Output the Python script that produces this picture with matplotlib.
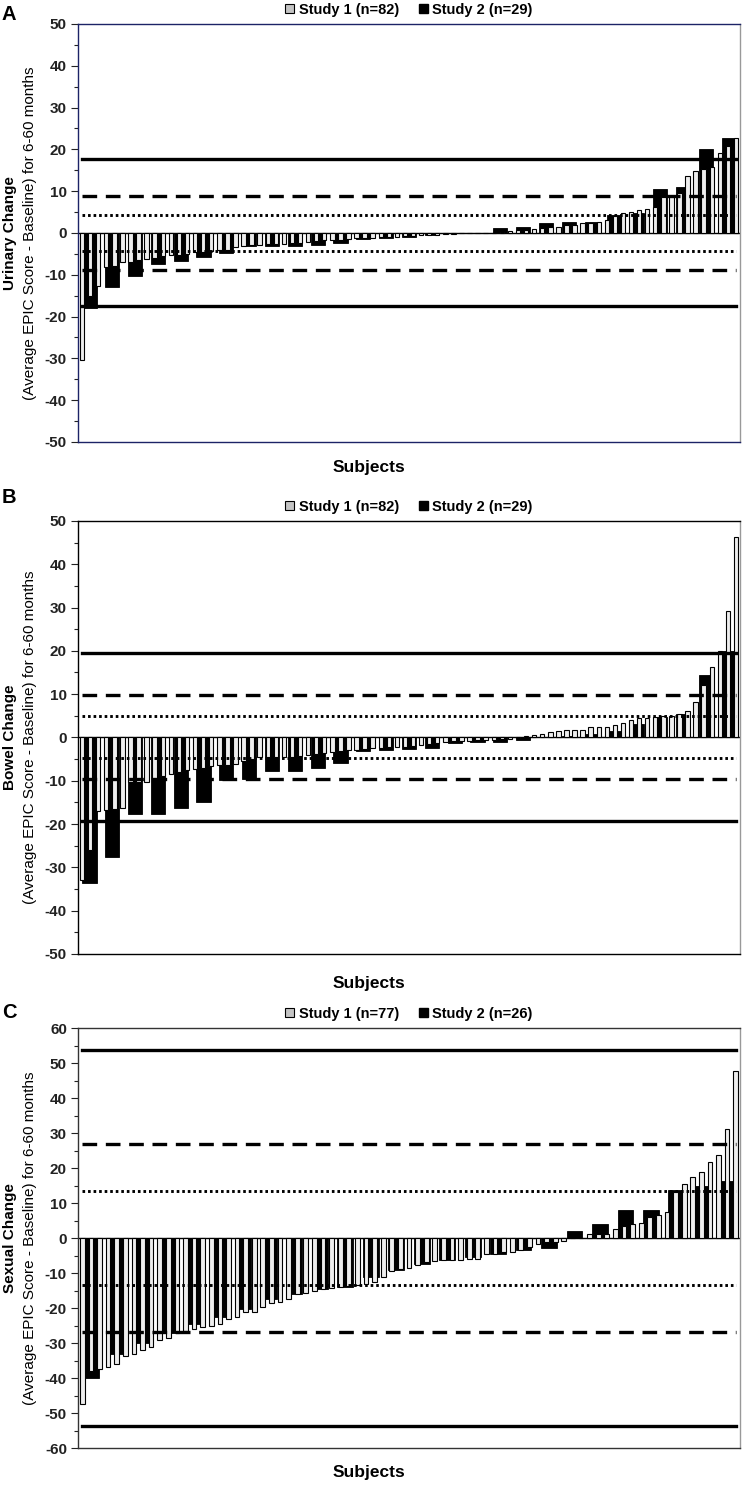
import numpy as np
import matplotlib.pyplot as plt
from matplotlib.patches import Patch

plt.rcParams['font.family'] = ['Liberation Sans', 'DejaVu Sans']
plt.rcParams['axes.unicode_minus'] = False

# --- data (sorted change scores) ---
urinary_s1 = [-30.5, -15.2, -12.6, -8.2, -8.0, -7.0, -7.0, -6.5, -6.2, -6.0,
              -5.5, -5.3, -5.3, -5.0, -4.6, -4.5, -4.4, -4.2, -4.0, -3.4,
              -3.2, -3.0, -2.8, -2.7, -2.6, -2.6, -2.5, -2.3, -2.2, -2.0,
              -1.8, -1.7, -1.6, -1.4, -1.3, -1.2, -1.1, -1.0, -1.0, -0.9,
              -0.8, -0.7, -0.6, -0.5, -0.4, -0.3, -0.2, -0.1, 0.0, 0.0,
              0.0, 0.0, 0.3, 0.5, 0.6, 0.8, 1.0, 1.2, 1.4, 1.5,
              1.8, 2.0, 2.3, 2.3, 2.5, 3.1, 4.1, 4.7, 5.1, 5.5,
              5.7, 6.3, 8.7, 8.9, 9.5, 13.5, 14.9, 15.3, 15.7, 19.1,
              20.7, 22.7]
urinary_s2 = [-17.9, -13.0, -10.4, -7.4, -6.8, -5.8, -4.9, -3.2, -3.2, -3.2,
              -2.9, -2.5, -1.4, -1.3, -1.0, -0.4, 0.0, 0.0, 1.2, 1.4,
              2.3, 2.6, 2.6, 4.4, 4.7, 10.5, 11.1, 20.1, 22.7]

bowel_s1 = [-33.0, -26.0, -17.0, -16.8, -16.5, -16.2, -10.4, -10.3, -10.2, -9.5,
            -9.0, -8.5, -8.0, -7.5, -7.2, -7.0, -6.6, -6.4, -6.3, -6.2,
            -5.5, -5.0, -4.6, -4.6, -4.6, -4.6, -4.4, -4.2, -4.1, -3.8,
            -3.5, -3.3, -3.1, -2.9, -2.8, -2.6, -2.5, -2.4, -2.3, -2.3,
            -2.1, -1.9, -1.8, -1.4, -1.2, -1.0, -0.9, -0.8, -0.8, -0.7,
            -0.6, -0.5, -0.4, -0.3, -0.2, 0.4, 0.5, 0.9, 1.2, 1.4,
            1.7, 1.8, 1.8, 2.5, 2.5, 2.5, 2.8, 3.3, 4.0, 4.4,
            4.6, 4.8, 5.0, 5.0, 5.5, 6.0, 8.3, 12.0, 16.3, 20.0,
            29.2, 46.4]
bowel_s2 = [-33.5, -27.5, -17.7, -17.7, -16.4, -15.0, -9.8, -9.6, -7.7, -7.7,
            -7.0, -6.0, -3.2, -2.8, -2.7, -2.5, -1.2, -1.0, -1.0, -0.6,
            0.0, 0.3, 0.8, 1.5, 3.0, 4.8, 5.5, 14.5, 20.0]

sexual_s1 = [-47.5, -38.0, -37.3, -36.8, -36.0, -33.8, -33.0, -32.0, -31.0, -29.0,
             -28.5, -27.0, -26.5, -26.0, -25.5, -25.0, -24.5, -23.0, -22.6, -21.0,
             -21.0, -19.8, -18.6, -18.3, -17.5, -16.0, -15.8, -15.0, -14.5, -14.2,
             -13.9, -13.6, -13.3, -13.0, -12.6, -11.0, -9.5, -8.8, -8.5, -7.8,
             -6.9, -6.6, -6.4, -6.4, -6.4, -5.9, -5.9, -4.7, -4.7, -4.0,
             -4.0, -3.5, -2.6, -1.6, -1.1, -1.0, -0.9, 0.0, 0.0, 1.2,
             1.2, 1.2, 2.7, 3.3, 3.9, 4.3, 6.0, 6.7, 7.4, 13.1,
             15.5, 17.4, 18.9, 21.7, 23.6, 31.2, 47.7]
sexual_s2 = [-40.0, -33.0, -30.0, -27.0, -24.5, -22.6, -20.2, -17.5, -15.9, -14.5,
             -14.0, -11.1, -9.2, -7.5, -6.4, -5.5, -4.5, -3.3, -2.8, 2.0,
             3.9, 7.9, 8.1, 13.6, 15.0, 16.4]

# thresholds: solid, dashed, dotted
urinary_thr = [17.6, 8.8, 4.4]
bowel_thr = [19.4, 9.7, 4.85]
sexual_thr = [53.8, 26.9, 13.45]

titles = ['Urinary Change', 'Bowel Change', 'Sexual Change']
sub_label = '(Average EPIC Score - Baseline) for 6-60 months'
letters = ['A', 'B', 'C']
legend_s1 = ['Study 1 (n=82)', 'Study 1 (n=82)', 'Study 1 (n=77)']
legend_s2 = ['Study 2 (n=29)', 'Study 2 (n=29)', 'Study 2 (n=26)']
ylims = [50, 50, 60]

fig = plt.figure(figsize=(7.43, 14.85), dpi=100)

rects = [[0.105, 0.7024, 0.891, 0.2815],
         [0.105, 0.3576, 0.891, 0.2916],
         [0.105, 0.0249, 0.891, 0.2828]]
spine_cols = ['#1c2366', 'black', '#333333']
subj_y = [0.6855, 0.338, 0.0081]
letter_y = [0.990, 0.6653, 0.3185]

panels = [(urinary_s1, urinary_s2, urinary_thr),
          (bowel_s1, bowel_s2, bowel_thr),
          (sexual_s1, sexual_s2, sexual_thr)]

for i, (s1, s2, thr) in enumerate(panels):
    ax = fig.add_axes(rects[i])
    lim = ylims[i]
    n1, n2 = len(s1), len(s2)

    # study 2 (black, wide) behind
    ax.bar(np.arange(n2), s2, width=0.62, color='black', edgecolor='black',
           linewidth=0.6, zorder=2)
    ax.set_xlim(-0.5, n2 - 0.5)
    ax.set_ylim(-lim, lim)
    ax.axhline(0, color='black', lw=1.0, zorder=1)

    # study 1 (light, narrow) on top
    ax2 = ax.twiny()
    ax2.bar(np.arange(n1), s1, width=0.55, color='#eeeeee', edgecolor='black',
            linewidth=0.8, zorder=2)
    ax2.set_xlim(-0.5, n1 - 0.5)
    ax2.set_ylim(-lim, lim)
    ax2.set_xticks([])
    for sp in ax2.spines.values():
        sp.set_visible(False)

    # threshold lines
    for sgn in (1, -1):
        ax2.axhline(sgn * thr[0], xmin=0.006, xmax=0.994, color='black',
                    lw=2.4, zorder=4)
        ax2.axhline(sgn * thr[1], xmin=0.006, xmax=0.994, color='black',
                    lw=2.4, dashes=(4.4, 2.6), zorder=4)
        ax2.axhline(sgn * thr[2], xmin=0.006, xmax=0.994, color='black',
                    lw=2.1, dashes=(0.9, 1.0), zorder=4)

    ax.set_xticks([])
    ax.set_yticks(np.arange(-lim, lim + 1, 10))
    ax.set_yticks(np.arange(-lim, lim + 1, 5), minor=True)
    ax.tick_params(axis='y', which='major', length=5, width=0.8,
                   labelsize=11, pad=3, colors='#222222')
    ax.tick_params(axis='y', which='minor', length=3, width=0.8, color='#222222')
    for lab in ax.get_yticklabels():
        lab.set_fontweight('bold')
    for name, sp in ax.spines.items():
        sp.set_color(spine_cols[i])
        sp.set_linewidth(1.0)
    ax.spines['right'].set_color('#999999')

    handles = [Patch(facecolor='#c4c4c4', edgecolor='black', lw=0.8, label=legend_s1[i]),
               Patch(facecolor='black', edgecolor='black', label=legend_s2[i])]
    ax.legend(handles=handles, loc='lower center', bbox_to_anchor=(0.5, 1.0),
              ncol=2, frameon=False, prop=dict(weight='bold', size=10.5),
              handlelength=0.6, handleheight=0.6, handletextpad=0.3,
              columnspacing=1.4, borderaxespad=0.1)

    yc = rects[i][1] + rects[i][3] / 2
    fig.text(0.013, yc, titles[i], rotation=90, ha='center', va='center',
             fontsize=11, fontweight='bold')
    fig.text(0.041, yc, sub_label, rotation=90, ha='center', va='center',
             fontsize=11)
    fig.text(0.497, subj_y[i], 'Subjects', ha='center', va='center',
             fontsize=12.5, fontweight='bold')
    fig.text(0.012, letter_y[i], letters[i], ha='center', va='center',
             fontsize=14.5, fontweight='bold')

fig.savefig('out.png', dpi=100)
